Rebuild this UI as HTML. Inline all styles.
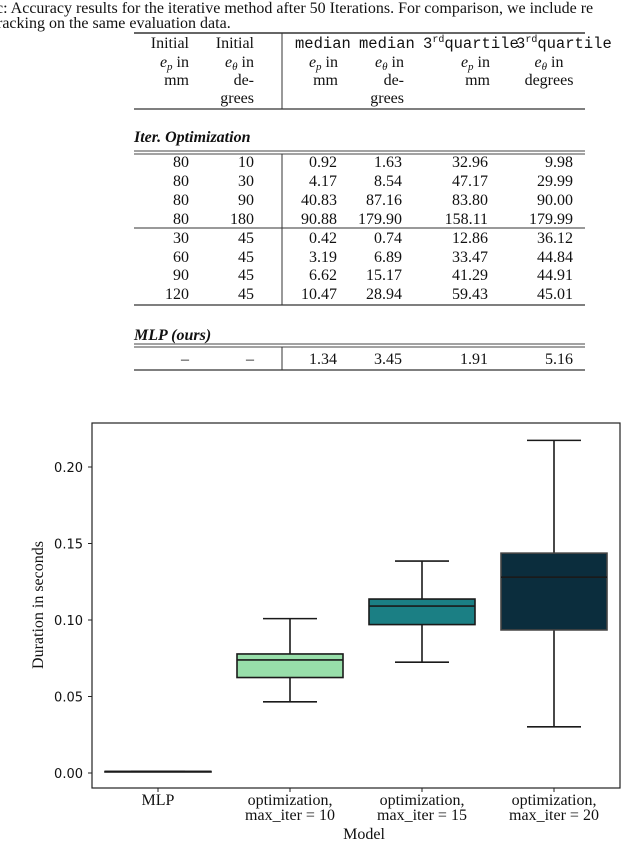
<!DOCTYPE html>
<html><head><meta charset="utf-8"><style>
html,body{margin:0;padding:0;background:#fff;width:640px;height:862px;overflow:hidden}
svg{display:block}
.s{font-family:"Liberation Serif",serif;font-size:16px;fill:#111}
.m{font-family:"Liberation Mono",monospace;font-size:15.5px;fill:#111}
.t{font-family:"DejaVu Sans","Liberation Sans",sans-serif;font-size:13px;fill:#111}
</style></head><body>
<svg id="page" width="640" height="862" viewBox="0 0 640 862">
<g>
<text class="s" x="-4" y="13">c: Accuracy results for the iterative method after 50 Iterations. For comparison, we include re</text>
<text class="s" x="-3" y="28">racking on the same evaluation data.</text>
</g>
<g id="tbl">
<line x1="134" y1="33" x2="585" y2="33" stroke="#333" stroke-width="1.5"/>
<line x1="134" y1="109" x2="585" y2="109" stroke="#333" stroke-width="1.2"/>
<line x1="282" y1="33" x2="282" y2="109" stroke="#333" stroke-width="1"/>
<g>
<text class="s" x="189" y="48" text-anchor="end">Initial</text>
<text class="s" x="189" y="67" text-anchor="end"><tspan font-style="italic">e</tspan><tspan font-style="italic" font-size="11" dy="3">p</tspan><tspan dy="-3"> in</tspan></text>
<text class="s" x="189" y="85" text-anchor="end">mm</text>
<text class="s" x="254" y="48" text-anchor="end">Initial</text>
<text class="s" x="254" y="67" text-anchor="end"><tspan font-style="italic">e</tspan><tspan font-style="italic" font-size="11" dy="3">θ</tspan><tspan dy="-3"> in</tspan></text>
<text class="s" x="254" y="85" text-anchor="end">de-</text>
<text class="s" x="254" y="103" text-anchor="end">grees</text>
<text class="m" x="295" y="48">median</text>
<text class="m" x="359" y="48">median</text>
<text class="m" x="423" y="48">3<tspan font-size="10" dy="-6">rd</tspan><tspan dy="6">quartile</tspan></text>
<text class="m" x="516" y="48">3<tspan font-size="10" dy="-6">rd</tspan><tspan dy="6">quartile</tspan></text>
<text class="s" x="338" y="67" text-anchor="end"><tspan font-style="italic">e</tspan><tspan font-style="italic" font-size="11" dy="3">p</tspan><tspan dy="-3"> in</tspan></text>
<text class="s" x="338" y="85" text-anchor="end">mm</text>
<text class="s" x="404" y="67" text-anchor="end"><tspan font-style="italic">e</tspan><tspan font-style="italic" font-size="11" dy="3">θ</tspan><tspan dy="-3"> in</tspan></text>
<text class="s" x="404" y="85" text-anchor="end">de-</text>
<text class="s" x="404" y="103" text-anchor="end">grees</text>
<text class="s" x="490" y="67" text-anchor="end"><tspan font-style="italic">e</tspan><tspan font-style="italic" font-size="11" dy="3">p</tspan><tspan dy="-3"> in</tspan></text>
<text class="s" x="490" y="85" text-anchor="end">mm</text>
<text class="s" x="549" y="67" text-anchor="middle"><tspan font-style="italic">e</tspan><tspan font-style="italic" font-size="11" dy="3">θ</tspan><tspan dy="-3"> in</tspan></text>
<text class="s" x="549" y="85" text-anchor="middle">degrees</text>
</g>
<text class="s" x="134" y="142" font-weight="bold" font-style="italic">Iter. Optimization</text>
<line x1="134" y1="151" x2="585" y2="151" stroke="#444" stroke-width="1"/>
<line x1="134" y1="154" x2="585" y2="154" stroke="#444" stroke-width="1"/>
<line x1="134" y1="228" x2="585" y2="228" stroke="#333" stroke-width="1"/>
<line x1="134" y1="305" x2="585" y2="305" stroke="#333" stroke-width="1.2"/>
<line x1="282" y1="154" x2="282" y2="305" stroke="#333" stroke-width="1"/>
<text class="s" x="134" y="340" font-weight="bold" font-style="italic">MLP (ours)</text>
<line x1="134" y1="344" x2="585" y2="344" stroke="#444" stroke-width="1"/>
<line x1="134" y1="347" x2="585" y2="347" stroke="#444" stroke-width="1"/>
<line x1="134" y1="370" x2="585" y2="370" stroke="#333" stroke-width="1.3"/>
<line x1="282" y1="347" x2="282" y2="370" stroke="#333" stroke-width="1"/>
<g id="rows"></g>
</g>
<g id="chart"></g>
</svg>
<script>
var NS="http://www.w3.org/2000/svg";
function mk(tag,attrs,parent,txt){var e=document.createElementNS(NS,tag);for(var k in attrs)e.setAttribute(k,attrs[k]);if(txt!==undefined)e.textContent=txt;parent.appendChild(e);return e;}
// table
var tableRows=[["80","10","0.92","1.63","32.96","9.98"],["80","30","4.17","8.54","47.17","29.99"],["80","90","40.83","87.16","83.80","90.00"],["80","180","90.88","179.90","158.11","179.99"],["30","45","0.42","0.74","12.86","36.12"],["60","45","3.19","6.89","33.47","44.84"],["90","45","6.62","15.17","41.29","44.91"],["120","45","10.47","28.94","59.43","45.01"]];
var mlpRow=["–","–","1.34","3.45","1.91","5.16"];
var colRight=[189,254,337,402,488,573];
var rg=document.getElementById('rows');
function addRow(r,y){var g=mk('g',{},rg);


r.forEach(function(v,i){mk('text',{'class':'s',x:colRight[i],y:y,'text-anchor':'end'},g,v);});}
var rowYs=[167,186,205,224,243,262,280,299];
tableRows.forEach(function(r,i){addRow(r,rowYs[i]);});
addRow(mlpRow,364);

// chart data
var categories=["MLP","optimization,|max_iter = 10","optimization,|max_iter = 15","optimization,|max_iter = 20"];
var whiskLow=[0.001,0.0465,0.0724,0.0302];
var q1=[0.001,0.0624,0.0970,0.0935];
var medians=[0.001,0.0739,0.1091,0.1280];
var q3=[0.001,0.0778,0.1137,0.1437];
var whiskHigh=[0.001,0.1009,0.1385,0.2174];
var colors=["#111","#98dfaa","#1b7f84","#0b2d3d"];
var yTicks=[0,0.05,0.10,0.15,0.20];
var yTickLabels=["0.00","0.05","0.10","0.15","0.20"];

var L=92,R=620,T=423,B=788;
function ys(v){return 773-v*1530;}
function xs(i){var bw=(R-L)/categories.length;return L+bw*(i+0.5);}
var c=document.getElementById('chart');
var frame=mk('rect',{x:L,y:T,width:R-L,height:B-T,fill:'none',stroke:'#222','stroke-width':1.2},c);


yTicks.forEach(function(v,i){var y=ys(v);
mk('line',{x1:L-4,x2:L,y1:y,y2:y,stroke:'#222','stroke-width':1},c);
var t=mk('text',{'class':'t',x:83,y:y+5,'text-anchor':'end'},c,yTickLabels[i]);

});
var yl=mk('text',{'class':'s',x:0,y:0,'text-anchor':'middle',transform:'translate(43,605) rotate(-90)'},c,'Duration in seconds');


var bw=106,cw=54;
categories.forEach(function(cat,i){var x=xs(i);
var g=mk('g',{},c);


var st='#1a1a1a';
mk('line',{x1:x,x2:x,y1:ys(whiskHigh[i]),y2:ys(q3[i]),stroke:st,'stroke-width':1.6},g);
mk('line',{x1:x,x2:x,y1:ys(q1[i]),y2:ys(whiskLow[i]),stroke:st,'stroke-width':1.6},g);
mk('line',{x1:x-cw/2,x2:x+cw/2,y1:ys(whiskHigh[i]),y2:ys(whiskHigh[i]),stroke:st,'stroke-width':1.6},g);
mk('line',{x1:x-cw/2,x2:x+cw/2,y1:ys(whiskLow[i]),y2:ys(whiskLow[i]),stroke:st,'stroke-width':1.6},g);
var h=ys(q1[i])-ys(q3[i]);
mk('rect',{x:x-bw/2,y:ys(q3[i]),width:bw,height:Math.max(h,0.5),fill:colors[i],stroke:i==3?'#444':st,'stroke-width':1.6},g);
mk('line',{x1:x-bw/2,x2:x+bw/2,y1:ys(medians[i]),y2:ys(medians[i]),stroke:st,'stroke-width':1.6},g);
mk('line',{x1:x,x2:x,y1:B,y2:B+4,stroke:'#222','stroke-width':1},c);
var parts=cat.split('|');
var lab=mk('text',{'class':'s','font-size':'11.5',x:x,y:805,'text-anchor':'middle'},c);


parts.forEach(function(p,j){mk('tspan',{x:x,dy:j==0?0:15},lab,p);});});
var xl=mk('text',{'class':'s','font-size':'17',x:364,y:839,'text-anchor':'middle'},c,'Model');


</script>
</body></html>
